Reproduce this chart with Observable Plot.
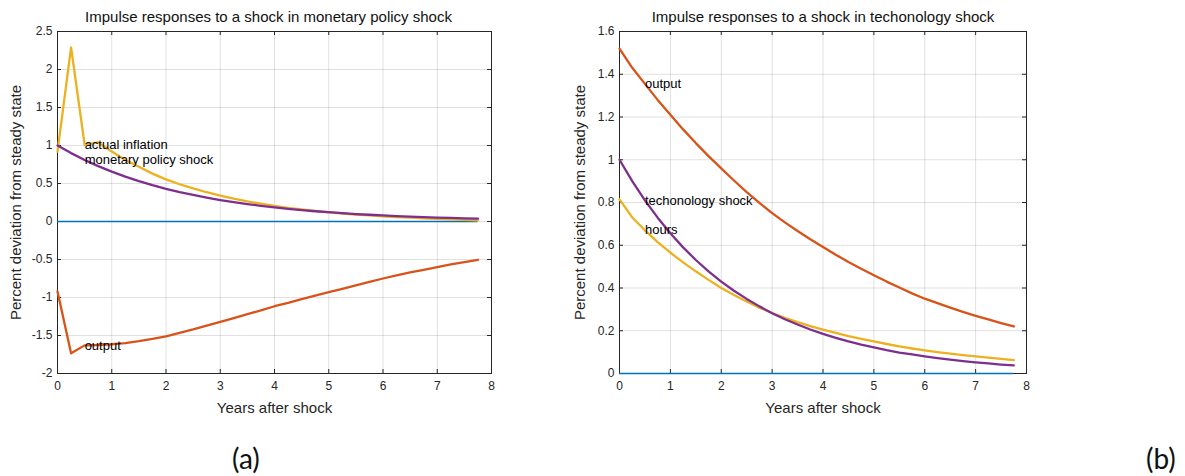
<!DOCTYPE html>
<html><head><meta charset="utf-8">
<script src="https://cdn.jsdelivr.net/npm/d3@7"></script>
<script src="https://cdn.jsdelivr.net/npm/@observablehq/plot@0.6"></script>
<style>
body{margin:0;background:#fff;}
#wrap{position:relative;width:1185px;height:476px;overflow:hidden;background:#fff;}
.holder{position:absolute;top:0;overflow:hidden;height:420px;}
.holder svg{max-width:none !important;}
.cap{position:absolute;font-family:Lato,"Open Sans",sans-serif;font-size:28px;line-height:1;color:#111;}
</style></head><body><div id="wrap"></div><script>
// quarterly horizon, in years
const years = [0,0.25,0.5,0.75,1,1.25,1.5,1.75,2,2.25,2.5,2.75,3,3.25,3.5,3.75,4,4.25,4.5,4.75,5,5.25,5.5,5.75,6,6.25,6.5,6.75,7,7.25,7.5,7.75];

// panel (a): monetary policy shock
const outputA = [-0.92,-1.735,-1.63,-1.625,-1.615,-1.6,-1.575,-1.545,-1.51,-1.465,-1.42,-1.37,-1.32,-1.27,-1.22,-1.17,-1.115,-1.07,-1.02,-0.975,-0.93,-0.885,-0.84,-0.795,-0.75,-0.71,-0.67,-0.635,-0.6,-0.565,-0.535,-0.505];
const inflationA = [0.92,2.29,1.01,1.04,0.92,0.81,0.72,0.63,0.555,0.49,0.435,0.385,0.34,0.30,0.265,0.235,0.205,0.18,0.16,0.14,0.12,0.105,0.09,0.08,0.068,0.058,0.05,0.042,0.035,0.028,0.022,0.016];
const mpShockA = [1,0.9,0.81,0.729,0.656,0.59,0.531,0.478,0.43,0.387,0.349,0.314,0.282,0.254,0.229,0.206,0.185,0.167,0.15,0.135,0.122,0.109,0.098,0.089,0.08,0.072,0.065,0.058,0.052,0.047,0.042,0.038];

// panel (b): technology shock
const outputB = [1.52,1.43,1.355,1.28,1.21,1.142,1.078,1.017,0.96,0.903,0.849,0.798,0.75,0.707,0.667,0.628,0.592,0.556,0.522,0.49,0.46,0.43,0.402,0.375,0.35,0.329,0.308,0.288,0.27,0.253,0.236,0.22];
const hoursB = [0.815,0.73,0.67,0.615,0.565,0.52,0.478,0.438,0.40,0.367,0.337,0.308,0.283,0.26,0.24,0.222,0.205,0.19,0.175,0.162,0.15,0.138,0.127,0.117,0.108,0.10,0.093,0.086,0.08,0.074,0.068,0.063];
const techShockB = [1,0.9,0.81,0.729,0.656,0.59,0.531,0.478,0.43,0.387,0.349,0.314,0.282,0.254,0.229,0.206,0.185,0.167,0.15,0.135,0.122,0.109,0.098,0.089,0.08,0.072,0.065,0.058,0.052,0.047,0.042,0.038];

// ticks
const xTicks = [0,1,2,3,4,5,6,7,8];
const yTicksA = [-2,-1.5,-1,-0.5,0,0.5,1,1.5,2,2.5];
const yTicksB = [0,0.2,0.4,0.6,0.8,1,1.2,1.4,1.6];

// texts
const titleA = "Impulse responses to a shock in monetary policy shock";
const titleB = "Impulse responses to a shock in techonology shock";
const xLabel = "Years after shock";
const yLabel = "Percent deviation from steady state";
const labelsA = ["output","actual inflation","monetary policy shock"];
const labelsB = ["output","hours","techonology shock"];
const captions = ["(a)","(b)"];

const COLORS = {zero:"#0072BD", c1:"#D95319", c2:"#EDB120", c3:"#7E2F8E"};
const FONT = "'Liberation Sans', Arial, Helvetica, sans-serif";
const labelIdx = 2; // labels are placed at t = 0.5

function panel({title, yDomain, yTicks, series, labels, width, mLeft, mRight, yLabelDx, titleDx}) {
  const height = 420, mTop = 31, mBottom = 47;
  const H = height - mTop - mBottom, W = width - mLeft - mRight;
  const gridStyle = {stroke:"#000", strokeOpacity:0.12, strokeWidth:1};
  const tickStyle = {stroke:"#262626", strokeWidth:1};
  const marks = [
    Plot.gridX(xTicks, {...gridStyle}),
    Plot.gridY(yTicks, {...gridStyle}),
    Plot.frame({stroke:"#262626", strokeWidth:1}),
    Plot.tickX(xTicks, {x:d=>d, insetTop:H-4, ...tickStyle}),
    Plot.tickX(xTicks, {x:d=>d, insetBottom:H-4, ...tickStyle}),
    Plot.tickY(yTicks, {y:d=>d, insetRight:W-4, ...tickStyle}),
    Plot.tickY(yTicks, {y:d=>d, insetLeft:W-4, ...tickStyle}),
    Plot.axisX({ticks:xTicks, tickSize:0, tickPadding:8, tickFormat:d=>String(d), label:null, fontSize:12, fill:"#262626"}),
    Plot.axisY({ticks:yTicks, tickSize:0, tickPadding:5, tickFormat:d=>String(d), label:null, fontSize:12, fill:"#262626"}),
    Plot.ruleY([0], {x1:years[0], x2:years[years.length-1], stroke:COLORS.zero, strokeWidth:1.5})
  ];
  series.forEach(s => {
    marks.push(Plot.line(years.map((t,i)=>({t, v:s.values[i]})), {x:"t", y:"v", stroke:s.color, strokeWidth:2.3, curve:"linear"}));
  });
  const lab = series.map((s,i)=>({x:years[labelIdx], y:s.values[labelIdx], text:labels[i]}));
  marks.push(Plot.text(lab, {x:"x", y:"y", text:"text", textAnchor:"start", fontSize:13, fill:"#000"}));
  marks.push(Plot.text([title], {text:d=>d, frameAnchor:"top", textAnchor:"middle", lineAnchor:"middle", dx:titleDx, dy:-14, fontSize:15, fill:"#111"}));
  marks.push(Plot.text([xLabel], {text:d=>d, frameAnchor:"bottom", textAnchor:"middle", lineAnchor:"middle", dy:35, fontSize:15, fill:"#262626"}));
  marks.push(Plot.text([yLabel], {text:d=>d, frameAnchor:"left", textAnchor:"middle", lineAnchor:"middle", dx:yLabelDx, rotate:-90, fontSize:15, fill:"#262626"}));
  const svg = Plot.plot({
    width, height, marginTop:mTop, marginBottom:mBottom, marginLeft:mLeft, marginRight:mRight,
    x:{domain:[0,8], axis:null},
    y:{domain:yDomain, axis:null},
    style:{fontFamily:FONT, background:"transparent", overflow:"visible", color:"#262626", maxWidth:"none"},
    marks
  });
  svg.style.maxWidth = "none";
  return svg;
}

const wrap = document.getElementById("wrap");
function place(svg, left, clipWidth) {
  const h = document.createElement("div");
  h.className = "holder";
  h.style.left = left + "px";
  h.style.width = clipWidth + "px";
  h.appendChild(svg);
  wrap.appendChild(h);
}
const a = panel({title:titleA, yDomain:[-2,2.5], yTicks:yTicksA,
  series:[{values:outputA,color:COLORS.c1},{values:inflationA,color:COLORS.c2},{values:mpShockA,color:COLORS.c3}],
  labels:labelsA, width:500, mLeft:57, mRight:9, yLabelDx:-41, titleDx:-6});
place(a, 0, 500);
const b = panel({title:titleB, yDomain:[0,1.6], yTicks:yTicksB,
  series:[{values:outputB,color:COLORS.c1},{values:hoursB,color:COLORS.c2},{values:techShockB,color:COLORS.c3}],
  labels:labelsB, width:480, mLeft:59, mRight:14, yLabelDx:-39, titleDx:0});
place(b, 560, 480);

const capPos = [{left:232, top:444}, {left:1146, top:444}];
captions.forEach((c,i)=>{
  const d = document.createElement("div");
  d.className = "cap"; d.textContent = c;
  d.style.left = capPos[i].left + "px"; d.style.top = capPos[i].top + "px";
  wrap.appendChild(d);
});
</script></body></html>
